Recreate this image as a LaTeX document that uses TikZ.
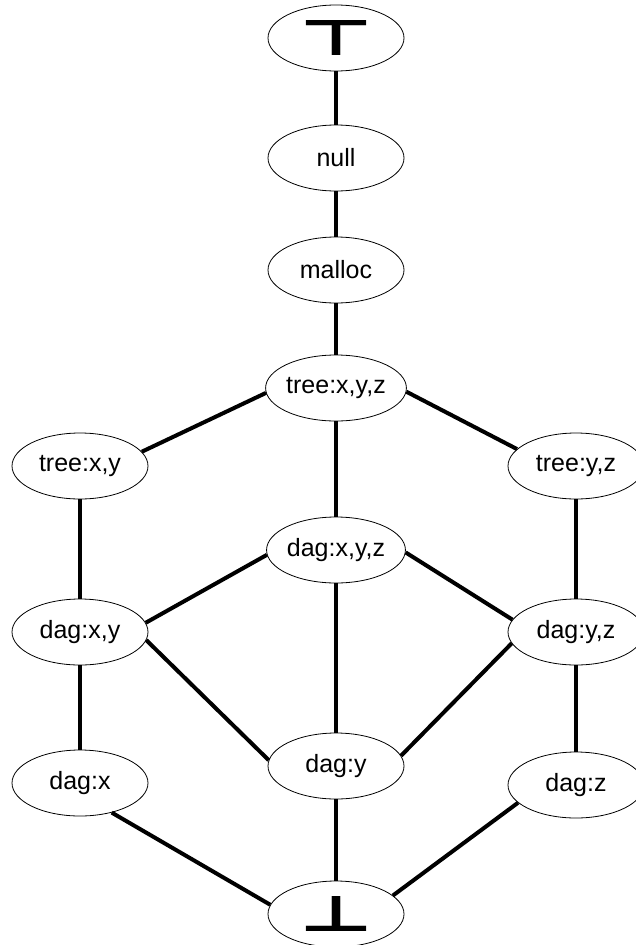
\documentclass[tikz,border=0pt]{standalone}
\usepackage{fontspec}
\usepackage{graphicx}
\usetikzlibrary{shapes.geometric}
\setmainfont{Liberation Sans}
\newfontfamily\symfont{DejaVu Sans}

\begin{document}
\begin{tikzpicture}[x=1pt,y=-1pt,
    every node/.style={ellipse, draw, line width=0.8pt, minimum width=136pt, minimum height=66pt, inner sep=0pt, font=\fontsize{25}{30}\selectfont},
    edge/.style={line width=4pt}]
            \clip (0,0) rectangle (636,945);
            \node (top)    at (336,38)  {\resizebox{74pt}{35pt}{\symfont\bfseries ⊤}};
            \node (null)   at (336,158) {null};
            \node (malloc) at (336,270) {malloc};
            \node (txyz)   at (336,388) {tree:x,y,z};
            \node (txy)    at (80,466)  {tree:x,y};
            \node (tyz)    at (576,466) {tree:y,z};
            \node (dxyz)   at (336,550) {dag:x,y,z};
            \node (dxy)    at (80,632)  {dag:x,y};
            \node (dyz)    at (576,632) {dag:y,z};
            \node (dx)     at (80,783)  {dag:x};
            \node (dy)     at (336,766) {dag:y};
            \node (dz)     at (576,785) {dag:z};
            \node (bot)    at (336,914) {\resizebox{74pt}{35pt}{\symfont\bfseries ⊥}};
            \draw[edge] (top) -- (null);
            \draw[edge] (null) -- (malloc);
            \draw[edge] (malloc) -- (txyz);
            \draw[edge] (txyz.184) -- (txy.13);
            \draw[edge] (txyz.357) -- (tyz.164);
            \draw[edge] (txyz) -- (dxyz);
            \draw[edge] (txy) -- (dxy);
            \draw[edge] (tyz) -- (dyz);
            \draw[edge] (dxyz.184) -- (dxy.8);
            \draw[edge] (dxyz.358) -- (dyz.169);
            \draw[edge] (dxyz) -- (dy);
            \draw[edge] (dxy.353) -- (dy.175);
            \draw[edge] (dyz.190) -- (dy.9);
            \draw[edge] (dxy) -- (dx);
            \draw[edge] (dyz) -- (dz);
            \draw[edge] (dx.-43) -- (bot.172);
            \draw[edge] (dz.197) -- (bot.18);
            \draw[edge] (dy) -- (bot);
        \end{tikzpicture}
\end{document}
